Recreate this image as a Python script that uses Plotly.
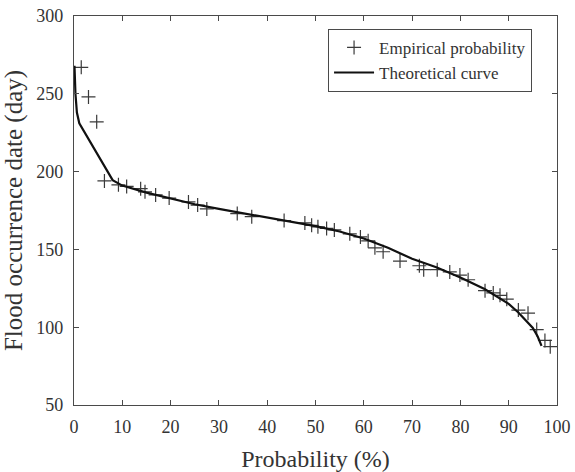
import plotly.graph_objects as go

# Empirical points: probability (%) and flood occurrence date (day)
emp_prob = [1.5, 3.0, 4.7, 6.3, 9.2, 10.9, 13.8, 14.7, 16.9, 19.7, 23.7, 25.6, 27.5,
            33.8, 36.8, 43.5, 47.8, 49.2, 50.5, 52.3, 53.9, 57.1, 59.3, 60.9, 62.3,
            64.0, 67.5, 71.5, 72.4, 75.2, 77.8, 79.9, 81.6, 85.1, 86.8, 88.2, 89.6,
            92.0, 94.0, 95.8, 97.5, 98.6]
emp_day = [267, 248, 232, 194, 191.5, 190.5, 189, 187, 185, 183, 180.5, 178.5, 176,
           173, 171, 168.5, 167, 165.5, 164.5, 163.5, 162.5, 160, 158, 155.5, 151,
           148.5, 142.5, 139.5, 137, 137, 135.5, 133.5, 130.5, 123.5, 122, 120.5, 118,
           111, 109, 98.5, 91.5, 87.5]

# Theoretical curve
theo_prob = [0.1, 0.3, 0.6, 1.1, 8, 10, 15, 20, 25, 30, 40, 50, 55, 60, 65, 70, 75,
             80, 85, 90, 92, 94, 95, 96, 96.8]
theo_day = [268, 250, 238, 231, 194.5, 191, 186.5, 182.5, 179, 176, 170.5, 165, 161.5,
            157, 151, 144, 138.5, 132, 124.5, 115, 109.5, 103, 99.5, 94, 88]

x_ticks = [0, 10, 20, 30, 40, 50, 60, 70, 80, 90, 100]
y_ticks = [50, 100, 150, 200, 250, 300]

FONT = "Liberation Serif"
AX = "#4a4a4a"
TXT = "#333333"

fig = go.Figure()
fig.add_trace(go.Scatter(
    x=emp_prob, y=emp_day, mode="markers", name="Empirical probability",
    marker=dict(symbol="cross-thin", size=10, line=dict(width=1.2, color="#3a3a3a"),
                color="#3a3a3a"),
))
fig.add_trace(go.Scatter(
    x=theo_prob, y=theo_day, mode="lines", name="Theoretical curve",
    line=dict(color="#111111", width=2.2),
))

axis_common = dict(
    showline=True, linecolor=AX, linewidth=1.2, mirror="ticks",
    ticks="inside", ticklen=5, tickcolor=AX, tickwidth=1,
    showgrid=False, zeroline=False, automargin=False,
    ticklabeloverflow="allow",
    tickfont=dict(family=FONT, size=18, color=TXT),
)

fig.update_layout(
    width=575, height=472,
    margin=dict(l=74, r=18, t=16, b=67),
    paper_bgcolor="white", plot_bgcolor="white",
    font=dict(family=FONT, color=TXT),
    xaxis=dict(range=[0, 100], tickvals=x_ticks, ticklabelstandoff=5, **axis_common,
               title=dict(text="Probability (%)", font=dict(family=FONT, size=24, color=TXT))),
    yaxis=dict(range=[50, 300], tickvals=y_ticks, ticklabelstandoff=6, **axis_common,
               title=dict(text="Flood occurrence date (day)",
                          font=dict(family=FONT, size=25, color=TXT))),
    legend=dict(x=0.526, y=0.967, xanchor="left", yanchor="top",
                bgcolor="white", bordercolor=AX, borderwidth=1,
                font=dict(family=FONT, size=17, color=TXT),
                itemwidth=40, tracegroupgap=0),
    showlegend=True,
)

# remove the default page margin so the 575x472 figure fills the window exactly
fig.write_html("out.html",
               config={"displayModeBar": False},
               post_script="document.body.style.margin='0';document.body.style.overflow='hidden';")
